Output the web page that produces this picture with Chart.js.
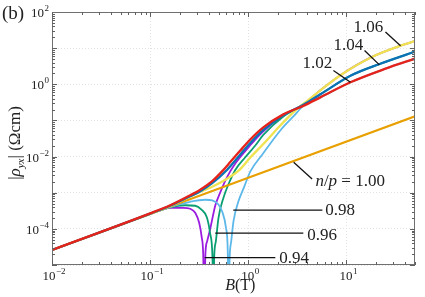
<!DOCTYPE html>
<html>
<head>
<meta charset="utf-8">
<script src="https://cdn.jsdelivr.net/npm/chart.js@4.4.0/dist/chart.umd.min.js"></script>
<style>
    html, body { margin: 0; padding: 0; background: #fff; }
    canvas { display: block; }
</style>
</head>
<body>
<canvas id="hallChart" width="425" height="297"></canvas>
<script>
// |rho_yx| (Ohm cm) against B (T), one pair of arrays per n/p
const b102 = [0.01, 0.1, 0.16, 0.256, 0.324, 0.429, 0.556, 0.655, 0.829, 1.048, 1.423, 2.276, 3.64, 5.43, 10.99, 25.0, 50];
const rho102 = [2.6e-5, 2.68e-4, 4.5e-4, 8.53e-4, 1.21e-3, 2.09e-3, 4.22e-3, 7.03e-3, 0.0147, 0.0297, 0.064, 0.147, 0.253, 0.435, 1.137, 2.70, 5.11];

const b104 = [0.01, 0.1, 0.16, 0.256, 0.324, 0.429, 0.606, 0.829, 1.048, 1.423, 2.276, 3.64, 5.43, 10.99, 22.2, 50];
const rho104 = [2.6e-5, 2.64e-4, 4.36e-4, 8.0e-4, 1.10e-3, 1.84e-3, 4.27e-3, 0.01137, 0.0237, 0.0545, 0.138, 0.270, 0.527, 1.72, 3.71, 8.0];

const b106 = [0.01, 0.1, 0.16, 0.288, 0.429, 0.596, 0.809, 1.048, 1.423, 2.12, 3.02, 3.64, 5.43, 8.69, 17.58, 35.6, 50];
const rho106 = [2.6e-5, 2.61e-4, 4.22e-4, 9.2e-4, 1.47e-3, 2.37e-3, 4.22e-3, 9.4e-3, 0.0222, 0.0726, 0.190, 0.287, 0.681, 1.78, 5.45, 11.7, 15.6];

const b100 = [0.01, 50];
const rho100 = [2.6e-5, 0.13];

// the n/p < 1 curves change sign, so |rho_yx| dips to zero (1e-6 is below the axis)
const b098 = [0.01, 0.1, 0.16, 0.256, 0.364, 0.429, 0.494, 0.543, 0.592, 0.618, 0.629, 0.647, 0.671, 0.708, 0.791, 0.910, 1.048, 1.39, 2.12, 2.88, 3.64, 5.43, 10.99, 25.0, 50];
const rho098 = [2.6e-5, 2.56e-4, 4.0e-4, 5.62e-4, 6.39e-4, 6.11e-4, 4.8e-4, 2.97e-4, 1.09e-4, 2.45e-5, 1e-6, 1.78e-5, 4.64e-5, 1.67e-4, 5.62e-4, 1.47e-3, 3.83e-3, 0.01137, 0.0528, 0.129, 0.253, 0.435, 1.137, 2.70, 5.11];

const b096 = [0.01, 0.1, 0.16, 0.2276, 0.288, 0.331, 0.379, 0.4095, 0.432, 0.4395, 0.450, 0.468, 0.4977, 0.560, 0.630, 0.737, 0.932, 1.179, 1.423, 2.276, 3.64, 5.43, 10.99, 22.2, 50];
const rho096 = [2.6e-5, 2.58e-4, 3.96e-4, 4.5e-4, 4.36e-4, 3.48e-4, 2.06e-4, 7.26e-5, 1.56e-5, 1e-6, 1.78e-5, 4.64e-5, 2.06e-4, 7.4e-4, 1.74e-3, 4.27e-3, 9.56e-3, 0.0202, 0.0396, 0.129, 0.270, 0.527, 1.72, 3.71, 8.0];

const b094 = [0.01, 0.1, 0.16, 0.217, 0.256, 0.288, 0.316, 0.335, 0.347, 0.3556, 0.366, 0.382, 0.4095, 0.4605, 0.518, 0.606, 0.737, 0.932, 1.423, 2.276, 3.64, 5.43, 8.69, 17.58, 35.6, 50];
const rho094 = [2.6e-5, 2.56e-4, 3.83e-4, 3.83e-4, 3.59e-4, 2.78e-4, 1.47e-4, 6.0e-5, 2.15e-5, 1e-6, 2.15e-5, 4.64e-5, 1e-4, 4.36e-4, 1.02e-3, 2.66e-3, 6.39e-3, 0.0142, 0.0495, 0.138, 0.278, 0.681, 1.78, 5.45, 11.7, 15.6];

// axis decades and labelled exponents
const xDecades = [0.01, 0.1, 1, 10];
const yDecades = [1e-5, 1e-4, 1e-3, 1e-2, 1e-1, 1, 10, 100];
const xLabelExp = [-2, -1, 0, 1];
const yLabelExp = [-4, -2, 0, 2];

const serif = '"Liberation Serif", "Times New Roman", serif';

function toPoints(bs, rs) {
    return bs.map((b, i) => ({ x: b, y: rs[i] }));
}

// first dataset is drawn on top
const series = [
    { b: b102, r: rho102, color: '#e5231b', width: 2.3 },
    { b: b104, r: rho104, color: '#0a72b5', width: 2.3 },
    { b: b106, r: rho106, color: '#efe350', width: 2.3 },
    { b: b100, r: rho100, color: '#e8a000', width: 2 },
    { b: b098, r: rho098, color: '#5db8ea', width: 1.8 },
    { b: b096, r: rho096, color: '#0a9e73', width: 1.8 },
    { b: b094, r: rho094, color: '#9b1ce0', width: 1.8 }
];

// curve labels: text anchor and pointer line, in data units
const notes = [
    { parts: [['1.06', '']], tx: 11.8, ty: 28.7, line: [25.0, 27.8, 35.6, 11.7] },
    { parts: [['1.04', '']], tx: 7.37, ty: 8.8, line: [15.3, 8.63, 21.7, 3.44] },
    { parts: [['1.02', '']], tx: 3.56, ty: 2.78, line: [7.37, 2.40, 11.0, 1.137] },
    { parts: [['n', 'italic '], ['/', ''], ['p', 'italic '], [' = 1.00', '']], tx: 4.83, ty: 1.56e-3, line: [2.90, 6.95e-3, 4.47, 2.40e-3] },
    { parts: [['0.98', '']], tx: 6.1, ty: 2.45e-4, line: [0.703, 3.31e-4, 5.69, 3.31e-4] },
    { parts: [['0.96', '']], tx: 4.0, ty: 4.95e-5, line: [0.461, 7.6e-5, 3.64, 7.6e-5] },
    { parts: [['0.94', '']], tx: 2.07, ty: 1.17e-5, line: [0.360, 1.6e-5, 1.886, 1.6e-5] }
];

function expText(e) {
    return e < 0 ? '\u2212' + Math.abs(e) : String(e);
}

// "10" with a raised exponent
function drawPow(ctx, e, x, y, align) {
    ctx.font = '13px ' + serif;
    const wBase = ctx.measureText('10').width;
    ctx.font = '9px ' + serif;
    const sup = expText(e);
    const wSup = ctx.measureText(sup).width;
    const total = wBase + wSup + 0.5;
    let start = x - total / 2;
    if (align === 'right') start = x - total;
    ctx.textAlign = 'left';
    ctx.textBaseline = 'alphabetic';
    ctx.font = '13px ' + serif;
    ctx.fillText('10', start, y);
    ctx.font = '9px ' + serif;
    ctx.fillText(sup, start + wBase + 0.5, y - 6);
}

// mixed font pieces on one baseline, returns width
function drawParts(ctx, parts, x, y, size, measureOnly) {
    let cx = x;
    parts.forEach(p => {
        const sz = p[2] || size;
        ctx.font = p[1] + sz + 'px ' + serif;
        if (!measureOnly) ctx.fillText(p[0], cx, y + (p[3] || 0));
        cx += ctx.measureText(p[0]).width;
    });
    return cx - x;
}

const decorations = {
    id: 'decorations',
    afterDraw(chart) {
        const { ctx, chartArea: a, scales: { x, y } } = chart;
        ctx.save();

        // frame
        ctx.strokeStyle = '#707070';
        ctx.lineWidth = 1;
        ctx.strokeRect(a.left + 0.5, a.top + 0.5, a.right - a.left - 1, a.bottom - a.top - 1);

        // inward ticks on all four sides
        ctx.strokeStyle = '#606060';
        ctx.beginPath();
        for (let e = -2; e <= 1; e++) {
            for (let m = 1; m <= 9; m++) {
                const v = m * Math.pow(10, e);
                if (v > 50) break;
                const px = Math.round(x.getPixelForValue(v)) + 0.5;
                const len = m === 1 ? 5 : 3;
                ctx.moveTo(px, a.bottom); ctx.lineTo(px, a.bottom - len);
                ctx.moveTo(px, a.top); ctx.lineTo(px, a.top + len);
            }
        }
        for (let e = -5; e <= 1; e++) {
            for (let m = 1; m <= 9; m++) {
                const v = m * Math.pow(10, e);
                const py = Math.round(y.getPixelForValue(v)) + 0.5;
                const len = m === 1 ? 5 : 3;
                ctx.moveTo(a.left, py); ctx.lineTo(a.left + len, py);
                ctx.moveTo(a.right, py); ctx.lineTo(a.right - len, py);
            }
        }
        ctx.stroke();

        // tick labels
        ctx.fillStyle = '#222';
        xLabelExp.forEach(e => drawPow(ctx, e, x.getPixelForValue(Math.pow(10, e)) + 2, a.bottom + 15, 'center'));
        yLabelExp.forEach(e => drawPow(ctx, e, a.left - 3, y.getPixelForValue(Math.pow(10, e)) + 5, 'right'));

        // axis titles
        ctx.textAlign = 'left';
        ctx.textBaseline = 'alphabetic';
        const xt = [['B', 'italic '], ['(T)', '']];
        const wx = drawParts(ctx, xt, 0, 0, 16, true);
        drawParts(ctx, xt, x.getPixelForValue(0.83) - wx / 2, 290, 16);

        const yt = [['|', ''], ['\u03c1', 'italic '], ['yx', 'italic ', 11, 4], ['|', ''], [' (\u03a9cm)', '']];
        ctx.save();
        ctx.translate(20, 143);
        ctx.rotate(-Math.PI / 2);
        const wy = drawParts(ctx, yt, 0, 0, 17, true);
        drawParts(ctx, yt, -wy / 2, 0, 17);
        ctx.restore();

        // panel letter
        ctx.font = '19px ' + serif;
        ctx.fillText('(b)', 2, 19);

        // curve labels with pointer lines
        ctx.strokeStyle = '#111';
        ctx.lineWidth = 1.3;
        notes.forEach(n => {
            const l = n.line;
            ctx.beginPath();
            ctx.moveTo(x.getPixelForValue(l[0]), y.getPixelForValue(l[1]));
            ctx.lineTo(x.getPixelForValue(l[2]), y.getPixelForValue(l[3]));
            ctx.stroke();
            drawParts(ctx, n.parts, x.getPixelForValue(n.tx), y.getPixelForValue(n.ty), 17);
        });

        ctx.restore();
    }
};

new Chart(document.getElementById('hallChart'), {
    type: 'line',
    data: {
        datasets: series.map(s => ({
            data: toPoints(s.b, s.r),
            borderColor: s.color,
            borderWidth: s.width,
            pointRadius: 0,
            fill: false,
            cubicInterpolationMode: 'monotone'
        }))
    },
    options: {
        responsive: false,
        animation: false,
        layout: { padding: { left: 52, right: 10, top: 12, bottom: 32 } },
        plugins: { legend: { display: false }, tooltip: { enabled: false } },
        scales: {
            x: {
                type: 'logarithmic',
                min: 0.01,
                max: 50,
                afterBuildTicks: s => { s.ticks = xDecades.map(v => ({ value: v })); },
                ticks: { display: false },
                grid: { color: '#e2e2e2', lineWidth: 1, drawTicks: false },
                border: { display: false, dash: [1, 2] }
            },
            y: {
                type: 'logarithmic',
                min: 1e-5,
                max: 100,
                afterBuildTicks: s => { s.ticks = yDecades.map(v => ({ value: v })); },
                ticks: { display: false },
                grid: { color: '#e2e2e2', lineWidth: 1, drawTicks: false },
                border: { display: false, dash: [1, 2] }
            }
        }
    },
    plugins: [decorations]
});
</script>
</body>
</html>
